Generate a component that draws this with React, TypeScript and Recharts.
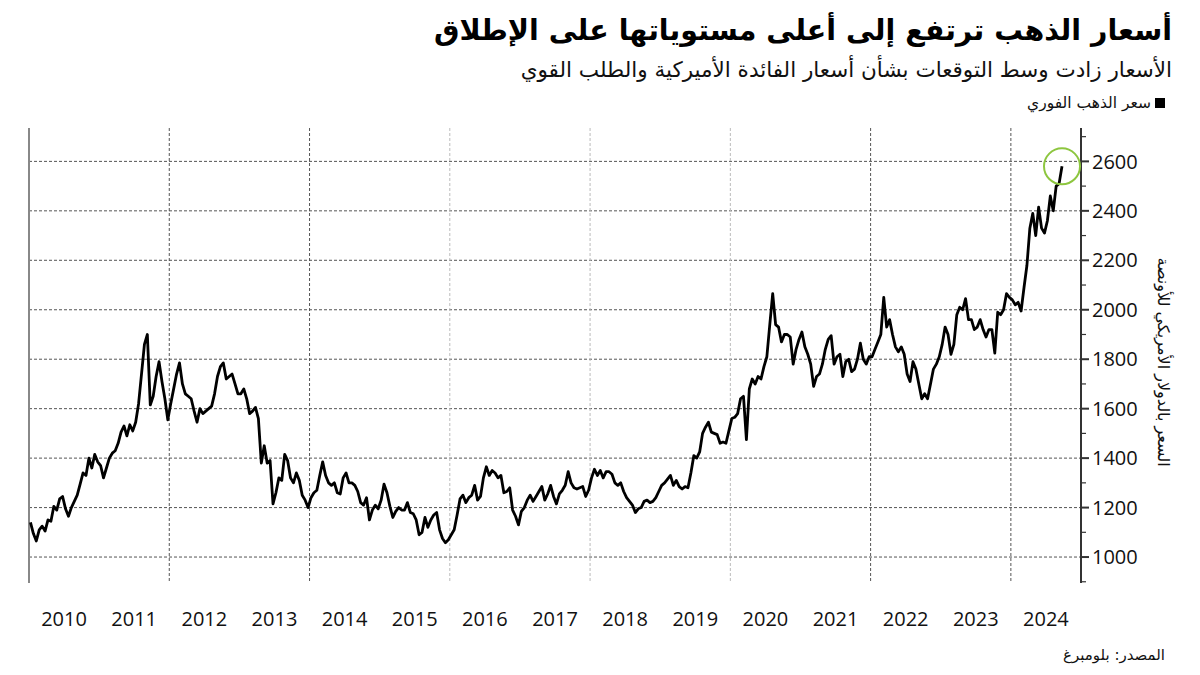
import { LineChart, Line, XAxis, YAxis, CartesianGrid, ReferenceLine, ReferenceDot } from "recharts";

// Spot gold, USD per ounce, two readings per month
const years = [2010, 2011, 2012, 2013, 2014, 2015, 2016, 2017, 2018, 2019, 2020, 2021, 2022, 2023, 2024];

const gold2010 = [1140, 1095, 1065, 1110, 1125, 1105, 1150, 1145, 1205, 1190, 1235, 1245, 1195, 1165, 1200, 1225, 1250, 1295, 1340, 1330, 1400, 1360, 1415, 1385];
const gold2011 = [1370, 1320, 1360, 1400, 1420, 1430, 1460, 1505, 1530, 1490, 1535, 1510, 1545, 1620, 1740, 1860, 1900, 1615, 1650, 1730, 1790, 1710, 1640, 1555];
const gold2012 = [1620, 1680, 1740, 1785, 1700, 1660, 1650, 1640, 1590, 1545, 1600, 1580, 1590, 1600, 1610, 1660, 1730, 1770, 1785, 1720, 1730, 1740, 1700, 1660];
const gold2013 = [1660, 1680, 1640, 1580, 1590, 1605, 1560, 1380, 1450, 1380, 1390, 1215, 1260, 1320, 1310, 1415, 1390, 1320, 1300, 1340, 1310, 1250, 1230, 1200];
const gold2014 = [1240, 1260, 1270, 1330, 1385, 1330, 1300, 1290, 1300, 1260, 1255, 1320, 1340, 1300, 1300, 1290, 1265, 1220, 1210, 1240, 1150, 1190, 1210, 1195];
const gold2015 = [1230, 1295, 1260, 1205, 1160, 1185, 1200, 1190, 1190, 1220, 1180, 1175, 1150, 1090, 1100, 1160, 1120, 1150, 1170, 1180, 1110, 1075, 1058, 1070];
const gold2016 = [1090, 1110, 1170, 1235, 1250, 1220, 1240, 1250, 1290, 1230, 1245, 1320, 1365, 1330, 1350, 1340, 1320, 1330, 1260, 1265, 1280, 1190, 1165, 1130];
const gold2017 = [1185, 1200, 1230, 1250, 1225, 1245, 1265, 1285, 1230, 1255, 1290, 1245, 1215, 1255, 1270, 1290, 1345, 1300, 1280, 1275, 1280, 1285, 1245, 1270];
const gold2018 = [1320, 1355, 1330, 1350, 1320, 1345, 1345, 1335, 1300, 1290, 1300, 1265, 1240, 1225, 1210, 1180, 1195, 1200, 1225, 1230, 1220, 1225, 1240, 1265];
const gold2019 = [1290, 1300, 1315, 1330, 1290, 1310, 1285, 1275, 1285, 1280, 1340, 1410, 1400, 1425, 1500, 1525, 1545, 1505, 1500, 1495, 1460, 1465, 1460, 1510];
const gold2020 = [1560, 1565, 1580, 1640, 1650, 1475, 1680, 1720, 1700, 1730, 1720, 1770, 1810, 1940, 2065, 1940, 1930, 1870, 1900, 1900, 1890, 1780, 1840, 1880];
const gold2021 = [1910, 1850, 1820, 1780, 1690, 1730, 1740, 1780, 1840, 1880, 1895, 1780, 1810, 1820, 1730, 1790, 1800, 1750, 1760, 1800, 1865, 1800, 1780, 1810];
const gold2022 = [1810, 1840, 1870, 1900, 2050, 1930, 1960, 1900, 1850, 1830, 1850, 1820, 1740, 1710, 1790, 1760, 1700, 1640, 1660, 1640, 1700, 1760, 1780, 1810];
const gold2023 = [1860, 1930, 1900, 1820, 1860, 1980, 2010, 2000, 2045, 1960, 1960, 1920, 1930, 1960, 1920, 1890, 1920, 1920, 1825, 1990, 1980, 2000, 2065, 2050];
const gold2024 = [2040, 2020, 2030, 1995, 2090, 2180, 2330, 2390, 2300, 2415, 2330, 2310, 2360, 2460, 2400, 2500, 2510, 2580];

const goldByYear = [gold2010, gold2011, gold2012, gold2013, gold2014, gold2015, gold2016, gold2017, gold2018, gold2019, gold2020, gold2021, gold2022, gold2023, gold2024];

const yTicks = [900, 1000, 1100, 1200, 1300, 1400, 1500, 1600, 1700, 1800, 1900, 2000, 2100, 2200, 2300, 2400, 2500, 2600, 2700];
const gridValues = [1000, 1200, 1400, 1600, 1800, 2000, 2200, 2400, 2600];
const yearBounds = [2011, 2012, 2013, 2014, 2015, 2016, 2017, 2018, 2019, 2020, 2021, 2022, 2023, 2024, 2025];
const yearMids = [2010.5, 2011.5, 2012.5, 2013.5, 2014.5, 2015.5, 2016.5, 2017.5, 2018.5, 2019.5, 2020.5, 2021.5, 2022.5, 2023.5, 2024.5];
const darkGridYears = [2012, 2014, 2022, 2024];
const lightGridYears = [2016, 2018, 2020];

const data = goldByYear.flatMap((vals, k) =>
  vals.map((v, i) => ({ t: years[k] + (i + 0.5) / 24, price: v }))
);
const last = data[data.length - 1];

const NUM_FONT = "'Open Sans', 'DejaVu Sans', sans-serif";
const AR_FONT = "'DejaVu Sans', sans-serif";

function PriceTick({ x, y, payload }: any) {
  const v = payload.value;
  const major = v % 200 === 0 && v >= 1000 && v <= 2600;
  return (
    <g>
      <line x1={x} x2={x + (major ? 8 : 5)} y1={y} y2={y} stroke="#333" strokeWidth={major ? 2 : 1.2} />
      {major && (
        <text x={x + 11} y={y} dy="0.36em" fontSize={20} fill="#111" fontFamily={NUM_FONT}>
          {v}
        </text>
      )}
    </g>
  );
}

function BoundaryTick({ x, y }: any) {
  return <line x1={x} x2={x} y1={y} y2={y + 49} stroke="#aaa" strokeWidth={2} />;
}

export default function App() {
  return (
    <div style={{ position: "absolute", left: 0, top: 0, width: 1200, height: 675, background: "#fff" }}>
      <div
        dir="rtl"
        style={{ position: "absolute", right: 28, top: 12, fontFamily: AR_FONT, fontWeight: 700, fontSize: 28.5, lineHeight: "38px", color: "#000", whiteSpace: "nowrap" }}
      >
        أسعار الذهب ترتفع إلى أعلى مستوياتها على الإطلاق
      </div>
      <div
        dir="rtl"
        style={{ position: "absolute", right: 28, top: 55, fontFamily: AR_FONT, fontSize: 21.5, lineHeight: "30px", color: "#111", whiteSpace: "nowrap" }}
      >
        الأسعار زادت وسط التوقعات بشأن أسعار الفائدة الأميركية والطلب القوي
      </div>
      <div
        dir="rtl"
        style={{ position: "absolute", right: 35, top: 91, fontFamily: AR_FONT, fontSize: 15.5, lineHeight: "24px", color: "#111", whiteSpace: "nowrap", display: "flex", alignItems: "center" }}
      >
        <span style={{ display: "inline-block", width: 10, height: 10, background: "#000", marginLeft: 4 }} />
        <span>سعر الذهب الفوري</span>
      </div>

      <LineChart width={1200} height={675} data={data} margin={{ top: 128, right: 29, bottom: 32, left: 29 }}>
        <CartesianGrid xAxisId="main" yAxisId="price" vertical={false} horizontalValues={gridValues} stroke="#555" strokeDasharray="3 2" />
        <CartesianGrid xAxisId="main" yAxisId="price" horizontal={false} verticalValues={darkGridYears} stroke="#555" strokeDasharray="3 2" />
        <CartesianGrid xAxisId="main" yAxisId="price" horizontal={false} verticalValues={lightGridYears} stroke="#bbb" strokeDasharray="3 2" />
        <XAxis
          xAxisId="main"
          type="number"
          dataKey="t"
          domain={[2010, 2025]}
          ticks={yearBounds}
          interval={0}
          tick={<BoundaryTick />}
          tickLine={false}
          tickSize={0}
          tickMargin={0}
          height={0}
          axisLine={{ stroke: "#999", strokeWidth: 2 }}
          allowDataOverflow
        />
        <XAxis
          xAxisId="labels"
          type="number"
          dataKey="t"
          domain={[2010, 2025]}
          ticks={yearMids}
          interval={0}
          tickLine={false}
          axisLine={false}
          tickSize={0}
          tickMargin={29}
          height={60}
          tick={{ fontSize: 20, fill: "#111", fontFamily: NUM_FONT }}
          tickFormatter={(v: number) => String(Math.floor(v))}
          allowDataOverflow
        />
        <YAxis
          yAxisId="price"
          orientation="right"
          type="number"
          domain={[895, 2735]}
          ticks={yTicks}
          interval={0}
          tick={<PriceTick />}
          tickLine={false}
          tickSize={0}
          tickMargin={0}
          width={90}
          axisLine={{ stroke: "#333", strokeWidth: 2 }}
          allowDataOverflow
        />
        <ReferenceLine xAxisId="main" yAxisId="price" x={2010} stroke="#888" strokeWidth={2} />
        <Line
          xAxisId="main"
          yAxisId="price"
          type="linear"
          dataKey="price"
          stroke="#000"
          strokeWidth={2.8}
          strokeLinejoin="round"
          dot={false}
          isAnimationActive={false}
        />
        <ReferenceDot
          xAxisId="main"
          yAxisId="price"
          x={last.t}
          y={last.price}
          r={18}
          fill="none"
          stroke="#8dc63f"
          strokeWidth={2}
        />
      </LineChart>

      <div
        dir="rtl"
        style={{ position: "absolute", left: 1163, top: 362, transform: "translate(-50%, -50%) rotate(90deg)", fontFamily: AR_FONT, fontSize: 16, color: "#111", whiteSpace: "nowrap" }}
      >
        السعر بالدولار الأمريكي للأونصة
      </div>
      <div
        dir="rtl"
        style={{ position: "absolute", right: 35, top: 643, fontFamily: AR_FONT, fontSize: 15, lineHeight: "24px", color: "#111", whiteSpace: "nowrap" }}
      >
        المصدر: بلومبرغ
      </div>
    </div>
  );
}
